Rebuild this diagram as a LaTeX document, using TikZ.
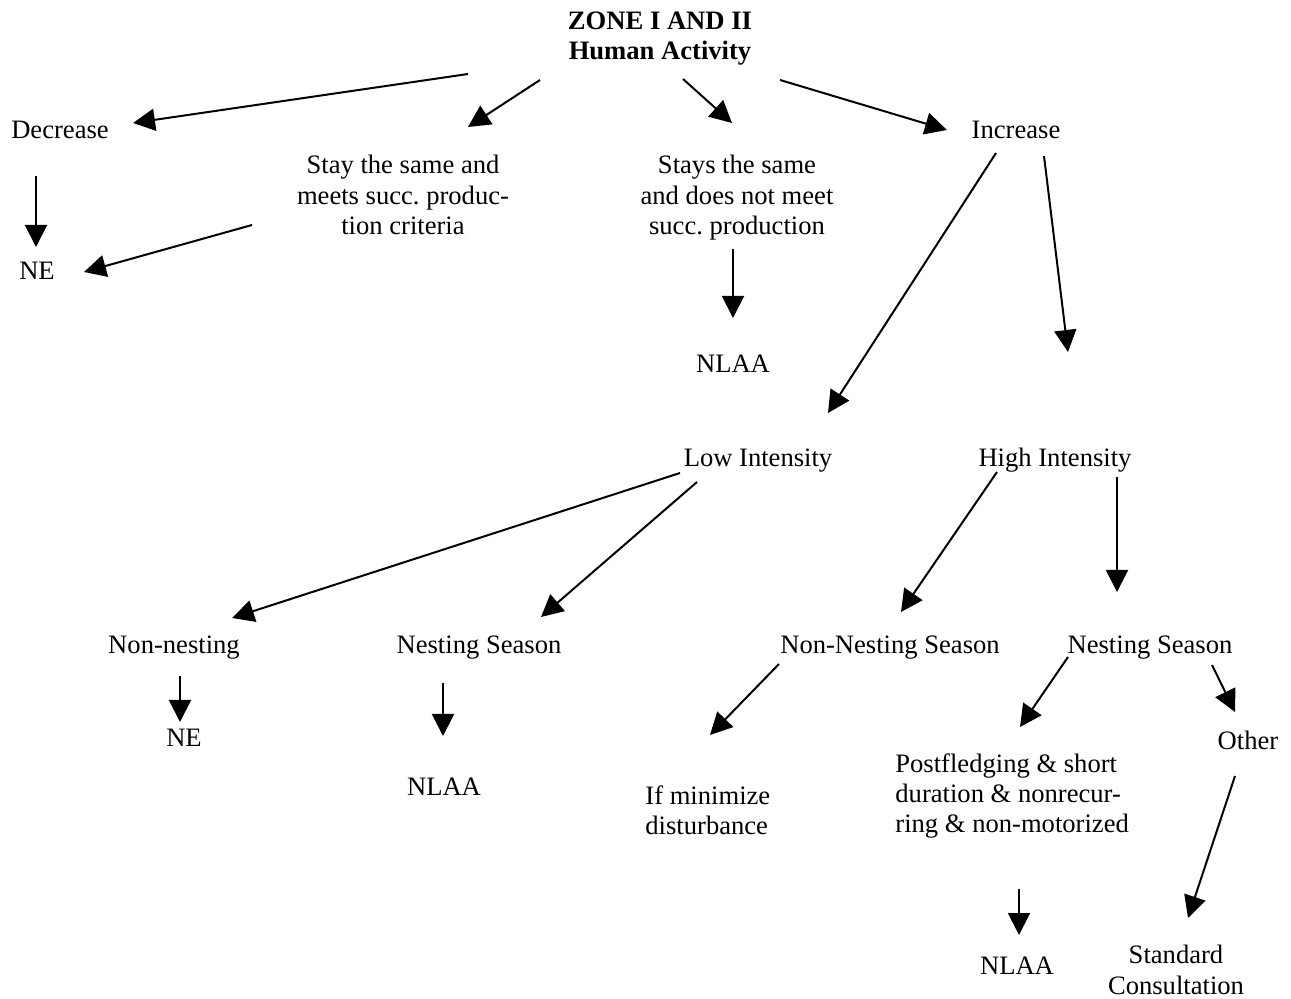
\documentclass[tikz,border=0pt]{standalone}
\usepackage{fontspec}
\setmainfont{Liberation Serif}
\usetikzlibrary{arrows.meta}
\frenchspacing
\begin{document}
\begin{tikzpicture}[x=0.5pt,y=-0.5pt,
  lbl/.style={inner sep=0pt, font=\fontsize{13.3}{15.2}\selectfont, anchor=base},
  blk/.style={inner sep=0pt, font=\fontsize{13.3}{15.2}\selectfont, align=center, anchor=north},
  blkl/.style={blk, align=left, anchor=north west},
  arr/.style={-{Triangle[length=11pt,width=11pt]}, line width=1pt}]
\useasboundingbox (0,0) rectangle (1291,999);

% decision labels
\node[blk, font=\fontsize{13.3}{15.2}\selectfont\bfseries] (zone) at (660,11) {ZONE I AND II\\Human Activity};
\node[lbl] (dec) at (60,139) {Decrease};
\node[blk] (stay) at (403,155) {Stay the same and\\meets succ. produc-\\tion criteria};
\node[blk] (stays) at (737,155) {Stays the same\\and does not meet\\succ. production};
\node[lbl] (inc) at (1016,139) {Increase};
\node[lbl] (ne1) at (37,280) {NE};
\node[lbl] (nlaa1) at (733,373) {NLAA};
\node[lbl] (low) at (758,467) {Low Intensity};
\node[lbl] (high) at (1055,467) {High Intensity};
\node[lbl] (nonn) at (174,654) {Non-nesting};
\node[lbl] (nestl) at (479,654) {Nesting Season};
\node[lbl] (nonns) at (890,654) {Non-Nesting Season};
\node[lbl] (nestr) at (1150,654) {Nesting Season};
\node[lbl] (ne2) at (184,747) {NE};
\node[lbl] (nlaa2) at (444,796) {NLAA};
\node[blkl] (minim) at (645,785) {If minimize\\disturbance};
\node[lbl] (other) at (1248,749) {Other};
\node[blkl] (post) at (895,753) {Postfledging \& short\\duration \& nonrecur-\\ring \& non-motorized};
\node[lbl] (nlaa3) at (1017,974) {NLAA};
\node[blk] (std) at (1176,945) {Standard\\Consultation};

% arrow end points
\coordinate (a1s) at (468,74);   \coordinate (a1e) at (133,123);
\coordinate (a2s) at (540,80);   \coordinate (a2e) at (468,127);
\coordinate (a3s) at (683,79);   \coordinate (a3e) at (732,123);
\coordinate (a4s) at (780,80);   \coordinate (a4e) at (947,130);
\coordinate (a5s) at (36,176);   \coordinate (a5e) at (36,247);
\coordinate (a6s) at (252,225);  \coordinate (a6e) at (84,272);
\coordinate (a7s) at (733,249);  \coordinate (a7e) at (733,318);
\coordinate (a8s) at (996,153);  \coordinate (a8e) at (828,413);
\coordinate (a9s) at (1044,156); \coordinate (a9e) at (1068,352);
\coordinate (b1s) at (680,473);  \coordinate (b1e) at (232,618);
\coordinate (b2s) at (697,482);  \coordinate (b2e) at (541,617);
\coordinate (b3s) at (997,472);  \coordinate (b3e) at (901,612);
\coordinate (b4s) at (1117,477); \coordinate (b4e) at (1117,592);
\coordinate (b5s) at (180,676);  \coordinate (b5e) at (180,722);
\coordinate (b6s) at (443,683);  \coordinate (b6e) at (443,736);
\coordinate (b7s) at (779,664);  \coordinate (b7e) at (710,735);
\coordinate (b8s) at (1068,657); \coordinate (b8e) at (1020,727);
\coordinate (b9s) at (1212,665); \coordinate (b9e) at (1235,712);
\coordinate (c1s) at (1019,889); \coordinate (c1e) at (1019,935);
\coordinate (c2s) at (1235,776); \coordinate (c2e) at (1188,918);

% connectors
\draw[arr] (a1s) -- (a1e);
\draw[arr] (a2s) -- (a2e);
\draw[arr] (a3s) -- (a3e);
\draw[arr] (a4s) -- (a4e);
\draw[arr] (a5s) -- (a5e);
\draw[arr] (a6s) -- (a6e);
\draw[arr] (a7s) -- (a7e);
\draw[arr] (a8s) -- (a8e);
\draw[arr] (a9s) -- (a9e);
\draw[arr] (b1s) -- (b1e);
\draw[arr] (b2s) -- (b2e);
\draw[arr] (b3s) -- (b3e);
\draw[arr] (b4s) -- (b4e);
\draw[arr] (b5s) -- (b5e);
\draw[arr] (b6s) -- (b6e);
\draw[arr] (b7s) -- (b7e);
\draw[arr] (b8s) -- (b8e);
\draw[arr] (b9s) -- (b9e);
\draw[arr] (c1s) -- (c1e);
\draw[arr] (c2s) -- (c2e);
\end{tikzpicture}
\end{document}
